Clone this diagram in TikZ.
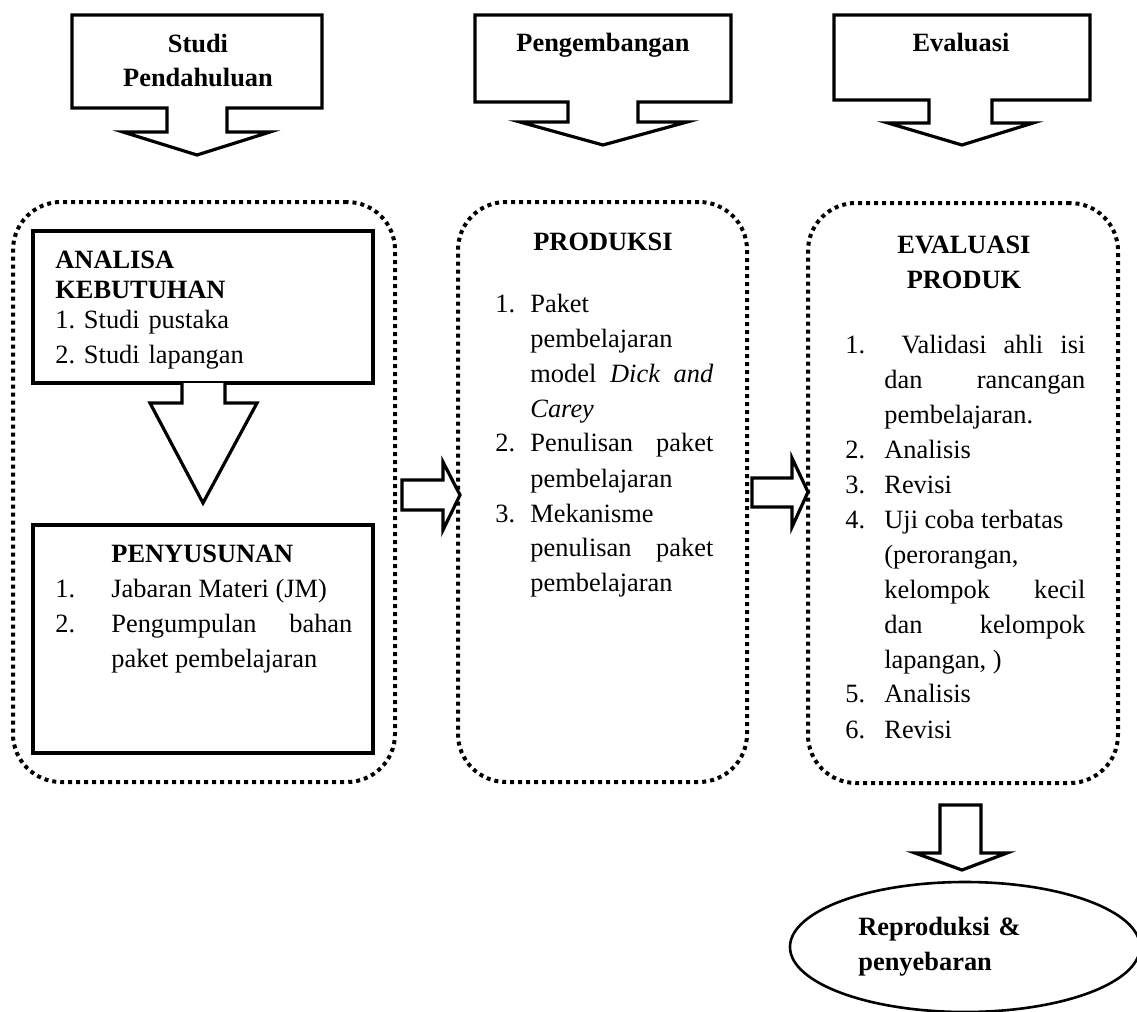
\documentclass[tikz,border=0pt]{standalone}
\usepackage{fontspec}
\setmainfont{Liberation Serif}
\usetikzlibrary{fit,shapes.geometric}
\newcommand\fs{\fontsize{13.2}{17.5}\selectfont\frenchspacing}
\newcommand\myli[3]{\hangindent=#1\hangafter=1\noindent\makebox[#1][l]{#2}\ignorespaces#3\par}
\hbadness=10000
\begin{document}
\begin{tikzpicture}[x=0.5pt,y=-0.5pt,
  dotbox/.style={draw, line width=2pt, dash pattern=on 2pt off 2pt, rounded corners=24pt, inner sep=0pt},
  solidbox/.style={draw, line width=1.6pt, inner sep=0pt},
  blockarrow/.style={draw, line width=1.6pt, line join=miter, fill=white},
  txt/.style={inner sep=0pt, anchor=base west, font=\fs},
  btxt/.style={txt, font=\fs\bfseries},
  para/.style={txt, text width=#1, align=justify},
  ctr/.style={inner sep=0pt, anchor=base, font=\fs\bfseries, text width=#1, align=center}
]
\useasboundingbox (0,0) rectangle (1137,1012);

% ---- top callout arrows ----
\draw[blockarrow] (72,15) -- (322,15) -- (322,108) -- (227,108) -- (227,132) -- (270,132)
  -- (197,155) -- (123,132) -- (167,132) -- (167,108) -- (72,108) -- cycle;
\node[ctr=110pt] (t1) at (198,53) {Studi\\[-0.5pt]Pendahuluan};

\draw[blockarrow] (475,15) -- (731,15) -- (731,102) -- (638,102) -- (638,122) -- (687,122)
  -- (603,145) -- (520,122) -- (568,122) -- (568,102) -- (475,102) -- cycle;
\node[ctr=110pt] (t2) at (603,52) {Pengembangan};

\draw[blockarrow] (834,15) -- (1090,15) -- (1090,100) -- (992,100) -- (992,123) -- (1033,123)
  -- (962,145) -- (888,123) -- (929,123) -- (929,100) -- (834,100) -- cycle;
\node[ctr=110pt] (t3) at (961,52) {Evaluasi};

% ---- dotted phase boxes ----
\node[dotbox, fit={(13,202)(395,782)}] (p1) {};
\node[dotbox, fit={(458,202)(747,782)}] (p2) {};
\node[dotbox, fit={(808,203)(1118,783)}] (p3) {};

% ---- left column ----
\node[solidbox, fit={(33,231)(373,383)}] (ana) {};
\draw[blockarrow] (182,383) -- (182,403) -- (150,403) -- (203,503) -- (257,403) -- (225,403) -- (225,383);
\node[solidbox, fit={(33,525)(373,753)}] (pen) {};

\node[txt, font=\fontsize{13.2}{15}\selectfont\bfseries, text width=150pt, align=left] (anah) at (55,268) {ANALISA\newline KEBUTUHAN};
\node[txt, text width=150pt, align=left] (anal) at (55,328) {1. Studi pustaka\newline 2. Studi lapangan};

\node[btxt] (penh) at (111,562) {PENYUSUNAN};
\node[para=148.5pt] (penl) at (55,597) {%
\myli{28pt}{1.}{Jabaran Materi (JM)}%
\myli{28pt}{2.}{Pengumpulan bahan\linebreak paket pembelajaran}};

% ---- middle column ----
\node[ctr=140pt] (prh) at (603,250) {PRODUKSI};
\node[para=109pt] (prl) at (495,312) {%
\myli{17.5pt}{1.}{Paket\newline pembelajaran\newline model \textit{Dick and}\linebreak \textit{Carey}}%
\myli{17.5pt}{2.}{Penulisan paket\linebreak pembelajaran}%
\myli{17.5pt}{3.}{Mekanisme\newline penulisan paket\linebreak pembelajaran}};

% ---- right column ----
\node[ctr=140pt] (evh) at (964,253) {EVALUASI\\PRODUK};
\node[para=120pt] (evl) at (845,353) {%
\myli{19.5pt}{1.}{\ Validasi ahli isi\linebreak dan rancangan\linebreak pembelajaran.}%
\myli{19.5pt}{2.}{Analisis}%
\myli{19.5pt}{3.}{Revisi}%
\myli{19.5pt}{4.}{Uji coba terbatas\newline (perorangan,\newline kelompok kecil\linebreak dan kelompok\linebreak lapangan, )}%
\myli{19.5pt}{5.}{Analisis}%
\myli{19.5pt}{6.}{Revisi}};

% ---- horizontal block arrows ----
\draw[blockarrow] (402,480) -- (443,480) -- (443,462) -- (460,495) -- (443,530) -- (443,510) -- (402,510) -- cycle;
\draw[blockarrow] (752,478) -- (792,478) -- (792,458) -- (808,492) -- (792,527) -- (792,507) -- (752,507) -- cycle;

% ---- bottom arrow and ellipse ----
\draw[blockarrow] (940,805) -- (981,805) -- (981,853) -- (1007,853) -- (962,870) -- (915,853) -- (940,853) -- cycle;
\node[draw, ellipse, line width=1.3pt, inner sep=0pt, minimum width=175pt, minimum height=65pt] (rep) at (965,947) {};
\node[txt, font=\fs\bfseries, text width=90pt, align=left] (rept) at (858,935) {Reproduksi \&\newline penyebaran};
\end{tikzpicture}
\end{document}
